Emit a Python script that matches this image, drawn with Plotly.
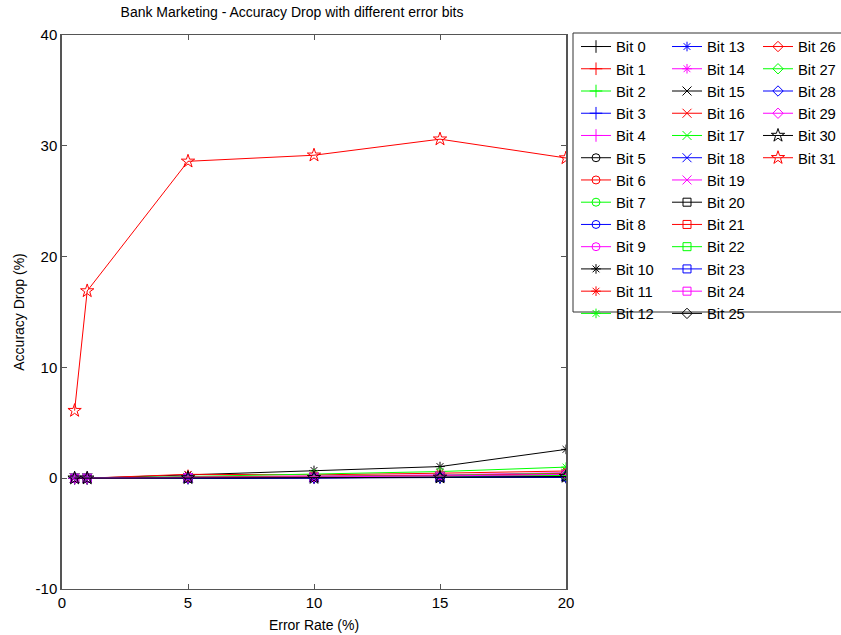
import plotly.graph_objects as go

error_rate = [0.5, 1, 5, 10, 15, 20]

bit0 = [0, 0, 0.02, 0.05, 0.08, 0.12]
bit1 = [0, 0, 0.05, 0.1, 0.15, 0.3]
bit2 = [0, 0, 0.03, 0.08, 0.12, 0.2]
bit3 = [0, 0, 0.02, 0.04, 0.06, 0.1]
bit4 = [0, 0, 0.04, 0.08, 0.12, 0.25]
bit5 = [0, 0, 0.02, 0.06, 0.1, 0.15]
bit6 = [0, 0, 0.06, 0.12, 0.2, 0.35]
bit7 = [0, 0, 0.03, 0.07, 0.1, 0.18]
bit8 = [0, 0, 0.02, 0.04, 0.07, 0.1]
bit9 = [0, 0, 0.05, 0.1, 0.18, 0.3]
bit10 = [0, 0, 0.3, 0.7, 1.05, 2.6]
bit11 = [0, 0, 0.35, 0.3, 0.45, 0.65]
bit12 = [0, 0, 0.15, 0.4, 0.6, 1.0]
bit13 = [0, 0, 0.02, 0.05, 0.08, 0.12]
bit14 = [0, 0, 0.1, 0.2, 0.3, 0.5]
bit15 = [0, 0, 0.03, 0.06, 0.1, 0.2]
bit16 = [0, 0, 0.05, 0.1, 0.2, 0.4]
bit17 = [0, 0, 0.08, 0.15, 0.25, 0.45]
bit18 = [0, 0, 0.02, 0.05, 0.1, 0.15]
bit19 = [0, 0, 0.06, 0.12, 0.2, 0.35]
bit20 = [0, 0, 0.04, 0.08, 0.14, 0.25]
bit21 = [0, 0, 0.05, 0.1, 0.18, 0.3]
bit22 = [0, 0, 0.04, 0.09, 0.15, 0.25]
bit23 = [0, 0, 0.02, 0.05, 0.08, 0.12]
bit24 = [0, 0, 0.06, 0.1, 0.18, 0.3]
bit25 = [0, 0, 0.02, 0.04, 0.06, 0.1]
bit26 = [0, 0, 0.08, 0.15, 0.22, 0.4]
bit27 = [0, 0, 0.05, 0.1, 0.15, 0.25]
bit28 = [0, 0, 0.02, 0.05, 0.08, 0.12]
bit29 = [0, 0, 0.06, 0.12, 0.2, 0.35]
bit30 = [0, 0, 0.03, 0.05, 0.08, 0.15]
bit31 = [6.1, 16.9, 28.6, 29.15, 30.6, 28.9]

series = [bit0, bit1, bit2, bit3, bit4, bit5, bit6, bit7, bit8, bit9,
          bit10, bit11, bit12, bit13, bit14, bit15, bit16, bit17, bit18, bit19,
          bit20, bit21, bit22, bit23, bit24, bit25, bit26, bit27, bit28, bit29,
          bit30, bit31]
names = [f"Bit {i}" for i in range(32)]

x_ticks = [0, 5, 10, 15, 20]
y_ticks = [-10, 0, 10, 20, 30, 40]
y_tick_labels = ["-10", "0", "10", "20", "30", "40"]

colors = ["#000000", "#ff0000", "#00ff00", "#0000ff", "#ff00ff"]
symbols = ["cross-thin-open", "circle-open", "asterisk-open", "x-thin-open",
           "square-open", "diamond-open", "star-open"]
sizes = [9, 8, 8, 9, 8, 8, 10]

fig = go.Figure()
for i, (name, vals) in enumerate(zip(names, series)):
    sym_i = i // 5
    leg = "legend" if i < 13 else ("legend2" if i < 26 else "legend3")
    fig.add_trace(go.Scatter(
        x=error_rate, y=vals, name=name, mode="lines+markers",
        line=dict(color=colors[i % 5], width=1),
        marker=dict(symbol=symbols[sym_i], size=sizes[sym_i],
                    color=colors[i % 5], line=dict(width=1, color=colors[i % 5])),
        legend=leg,
    ))

FAM = "Liberation Sans, Arial, sans-serif"
fnt = dict(family=FAM, size=14.8, color="#000000")

W, H = 841, 635
PL, PR, PT, PB = 62, 566, 35, 589  # plot area in px

def px2x(p):
    return (p - PL) / float(PR - PL)

def py2y(p):
    return (PB - p) / float(PB - PT)

leg_common = dict(font=fnt, bgcolor="rgba(0,0,0,0)", borderwidth=0,
                  xanchor="left", yanchor="top", tracegroupgap=0)

fig.update_layout(
    width=W, height=H,
    margin=dict(l=PL, r=W - PR, t=PT, b=H - PB, autoexpand=False),
    paper_bgcolor="white", plot_bgcolor="white",
    title=dict(text="Bank Marketing - Accuracy Drop with different error bits",
               x=292 / W, xanchor="center", y=1 - 12.5 / H, yanchor="middle",
               font=dict(family=FAM, size=14, color="#000000")),
    font=fnt,
    showlegend=True,
    legend=dict(x=px2x(576), y=py2y(30.4), **leg_common),
    legend2=dict(x=px2x(667), y=py2y(30.4), **leg_common),
    legend3=dict(x=px2x(758), y=py2y(30.4), **leg_common),
    xaxis=dict(range=[0, 20], tickvals=x_ticks, ticks="inside", ticklen=5,
               showgrid=False, zeroline=False, showline=True, linecolor="#555555",
               linewidth=1, mirror="ticks", tickcolor="#555555", automargin=False,
               tickfont=dict(family=FAM, size=15),
               title=dict(text="Error Rate (%)", standoff=10,
                          font=dict(family=FAM, size=14))),
    yaxis=dict(range=[-10, 40], tickvals=y_ticks, ticktext=y_tick_labels,
               ticks="inside", ticklen=5,
               showgrid=False, zeroline=False, showline=True, linecolor="#555555",
               linewidth=1.5, mirror="ticks", tickcolor="#555555", automargin=False,
               tickfont=dict(family=FAM, size=15),
               title=dict(text="Accuracy Drop (%)", standoff=8,
                          font=dict(family=FAM, size=14))),
    shapes=[dict(type="rect", xref="paper", yref="paper",
                 x0=px2x(573), x1=px2x(860), y0=py2y(312), y1=py2y(33),
                 line=dict(color="#333333", width=1), layer="above")],
)

# remove the browser's default 8px body margin so the figure fills the window
fig.write_html("out.html",
               config={"displayModeBar": False},
               post_script="document.body.style.margin='0';document.body.style.overflow='hidden';")
